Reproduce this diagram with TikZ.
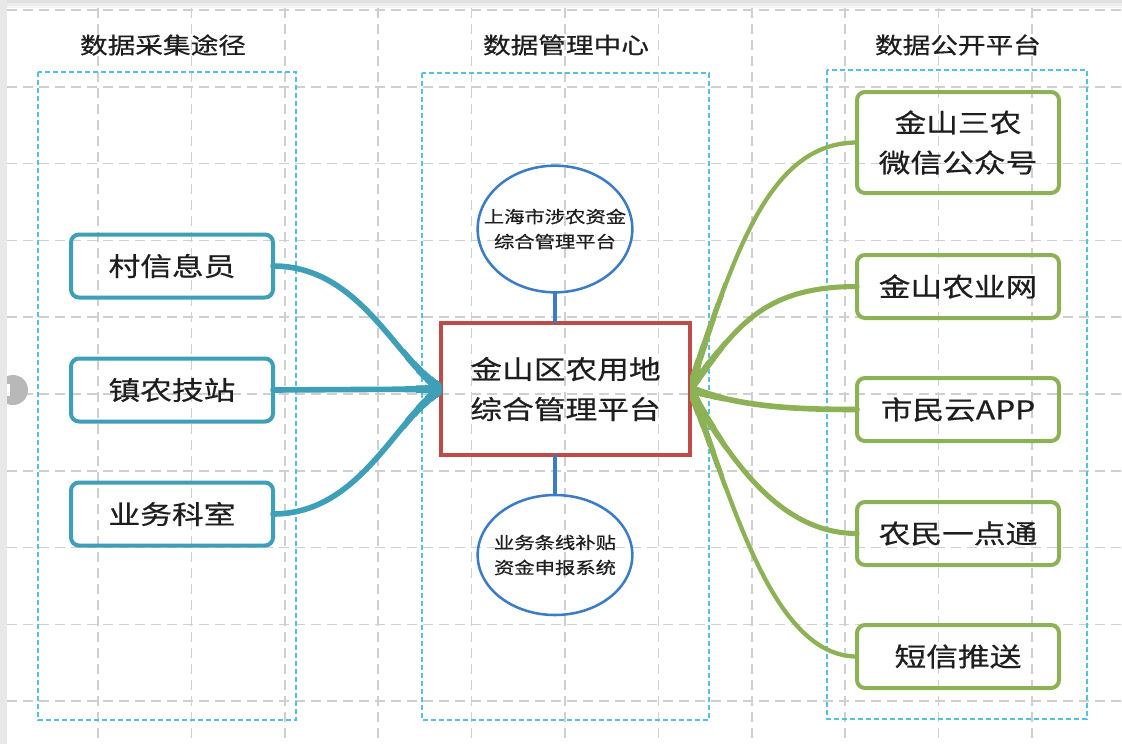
\documentclass[tikz,border=0pt]{standalone}
\usepackage{fontspec}
\setmainfont{Noto Sans CJK SC}[FakeStretch=1.22,FakeBold=0.6]
\usetikzlibrary{shapes.geometric}
\definecolor{teal1}{HTML}{3E9FB8}
\definecolor{green1}{HTML}{8DB255}
\definecolor{red1}{HTML}{BE4B48}
\definecolor{blue1}{HTML}{3A7CC8}
\definecolor{cyan1}{HTML}{55C0E6}
\definecolor{grid1}{HTML}{CFCFCF}
\definecolor{txt}{HTML}{1E1E1E}
\newcommand{\zw}[1]{\makebox[0pt]{#1}}
\begin{document}
\begin{tikzpicture}[x=0.75pt,y=-0.75pt,
  gridline/.style={grid1,line width=1.1pt,dash pattern=on 7.5pt off 4.5pt},
  zone/.style={cyan1,line width=1.6pt,dash pattern=on 3.8pt off 2.2pt},
  title/.style={txt,font=\fontsize{17pt}{20pt}\selectfont,inner sep=0pt},
  tbox/.style={draw=teal1,line width=3pt,rounded corners=6pt,minimum width=151.5pt,minimum height=47.25pt,inner sep=0pt,outer sep=0pt,text=txt,font=\fontsize{19.5pt}{30pt}\selectfont},
  gbox/.style={draw=green1,line width=3pt,rounded corners=6pt,minimum width=151.5pt,minimum height=47.25pt,inner sep=0pt,outer sep=0pt,text=txt,align=center,font=\fontsize{19.5pt}{30pt}\selectfont},
  hubbox/.style={draw=red1,line width=3.2pt,minimum width=186.75pt,minimum height=99pt,inner sep=0pt,outer sep=0pt,text=txt,align=center,font=\fontsize{19.5pt}{30pt}\selectfont},
  ell/.style={draw=blue1,line width=1.9pt,ellipse,minimum width=116pt,inner sep=0pt,outer sep=0pt,text=txt,align=center,font=\fontsize{12.5pt}{18.75pt}\selectfont},
  tline/.style={teal1,line cap=round},
  gline/.style={green1,line cap=round},
  bline/.style={blue1,line width=3pt}
]
\useasboundingbox (0,0) rectangle (1122,744);
\fill[white] (0,0) rectangle (1122,744);
\fill[black!12] (0,0) rectangle (1122,3);
\fill[black!8] (0,3) rectangle (1122,6);
\fill[black!4] (0,6) rectangle (1122,8);
% grid
\foreach \i in {0,...,10} \draw[gridline] ({98+93.4*\i},8) -- ({98+93.4*\i},744);
\foreach \j in {0,...,9} \draw[gridline] (7,{10+76.8*\j}) -- (1122,{10+76.8*\j});
% side handle
\fill[black!28] (13,390) circle (15);
\fill[black!9] (0,0) rectangle (7,744);
\fill[white] (7,384) rectangle (10,396);
% zones
\draw[zone] (38,72) rectangle (296,720);
\draw[zone] (422,73) rectangle (709,720);
\draw[zone] (827,70) rectangle (1087,719);
% titles
\node[title] (t1) at (163,45) {数据采集途径};
\node[title] (t2) at (566,45) {数据管理中心};
\node[title] (t3) at (958,45) {数据公开平台};
% nodes
\node[tbox] (l1) at (172,266) {村信息员};
\node[tbox] (l2) at (172,390) {镇农技站};
\node[tbox] (l3) at (172,514) {业务科室};
\node[hubbox] (c) at (565.5,389) {金山区农用地\\综合管理平台};
\node[ell,minimum height=95pt] (e1) at (555,229) {\zw{上海市涉农资金}\\\zw{综合管理平台}};
\node[ell,minimum height=90pt] (e2) at (555,555) {\zw{业务条线补贴}\\\zw{资金申报系统}};
\node[gbox,minimum height=75.75pt] (r1) at (958,142.5) {金山三农\\微信公众号};
\node[gbox] (r2) at (958,286.5) {金山农业网};
\node[gbox] (r3) at (958,409.5) {市民云APP};
\node[gbox] (r4) at (958,533.5) {农民一点通};
\node[gbox] (r5) at (958,656.5) {短信推送};
% connectors
\foreach \w/\xa in {4.2/250,4.8/405,5.5/416,6.2/425,6.9/432,7.5/437}{
  \begin{scope}
    \clip (\xa,100) rectangle (441,700);
    \draw[tline,line width=\w pt] (l1.east) .. controls +(87,0) and +(-46,-30) .. (c.west);
    \draw[tline,line width=\w pt] (l2.east) -- (c.west);
    \draw[tline,line width=\w pt] (l3.east) .. controls +(87,0) and +(-46,30) .. (c.west);
  \end{scope}}
\foreach \d/\xb in {0/880,0.5/724,1.0/716,1.5/708,2.0/701,2.5/696}{
  \begin{scope}
    \clip (690,60) rectangle (\xb,700);
    \draw[gline,line width={(3.2+\d)*1pt}] (c.east) .. controls +(45,-139) and +(-87,0) .. (r1.west);
    \draw[gline,line width={(3.8+\d)*1pt}] (c.east) .. controls +(45,-59) and +(-97,0) .. (r2.west);
    \draw[gline,line width={(4.2+\d)*1pt}] (c.east) .. controls +(50,16) and +(-77,0) .. (r3.west);
    \draw[gline,line width={(3.8+\d)*1pt}] (c.east) .. controls +(40,71) and +(-77,0) .. (r4.west);
    \draw[gline,line width={(3.2+\d)*1pt}] (c.east) .. controls +(40,101) and +(-87,0) .. (r5.west);
  \end{scope}}
\draw[bline] (e1.south) -- (e1.south |- c.north);
\draw[bline] (c.south -| e2.north) -- (e2.north);
\end{tikzpicture}
\end{document}
